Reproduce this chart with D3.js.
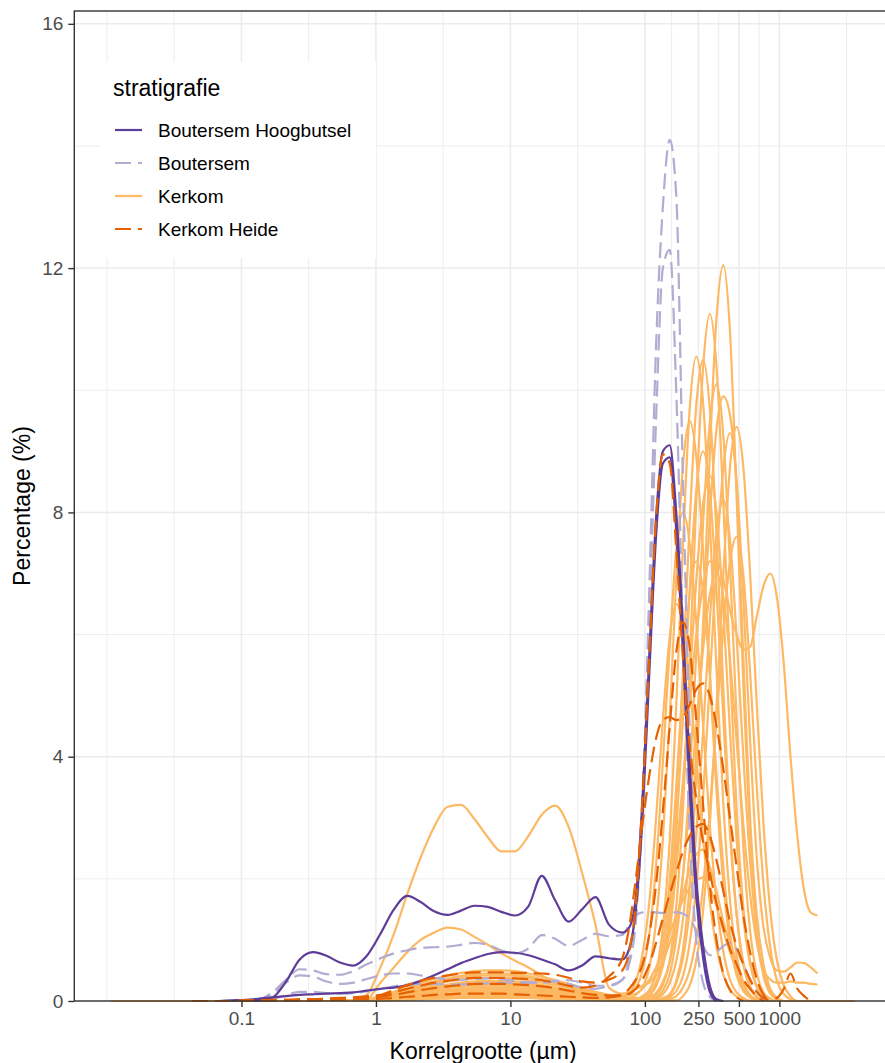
<!DOCTYPE html>
<html>
<head>
<meta charset="utf-8">
<title>Korrelgrootteverdeling</title>
<script src="https://cdnjs.cloudflare.com/ajax/libs/d3/7.8.5/d3.min.js"></script>
<style>
  body { margin: 0; background: #fff; }
  text { font-family: "Liberation Sans", Arial, sans-serif; }
</style>
</head>
<body>
<svg id="chart" width="885" height="1063"></svg>
<script>
// grain size classes (µm) of the laser diffraction grid
var sizes = [0.0108, 0.0136, 0.0171, 0.0215, 0.0271, 0.0341, 0.0429, 0.054, 0.068, 0.0856,
  0.108, 0.136, 0.171, 0.215, 0.271, 0.341, 0.429, 0.54, 0.68, 0.856,
  1.08, 1.36, 1.71, 2.15, 2.71, 3.41, 4.29, 5.4, 6.8, 8.56,
  10.8, 13.6, 17.1, 21.5, 27.1, 34.1, 42.9, 54, 68, 76.3,
  85.6, 96, 108, 121, 136, 153, 171, 192, 215, 241,
  271, 304, 341, 383, 429, 481, 540, 606, 680, 763,
  856, 960, 1080, 1210, 1360, 1530, 1710, 1920, 2420, 3050, 3640];

var xTicks = [0.1, 1, 10, 100, 250, 500, 1000];
var xTickLabels = ["0.1", "1", "10", "100", "250", "500", "1000"];
var xMinorBreaks = [0.01, 0.0316, 0.316, 3.16, 31.6, 158, 354, 707, 3162];
var yTicks = [0, 4, 8, 12, 16];
var yMinorBreaks = [2, 6, 10, 14];

var groups = ["Boutersem Hoogbutsel", "Boutersem", "Kerkom", "Kerkom Heide"];
var groupColors = ["#5e3c99", "#b2abd2", "#fdb863", "#e66101"];
var groupDash = [null, "16,7", null, "16,7"];

// each sample: index in sizes of its first value, then percentages
var hoogbutselSamples = [
  {from: 10, v: [0, 0.01, 0.06, 0.32, 0.68, 0.8, 0.74, 0.63, 0.58, 0.74,
    1.1, 1.5, 1.72, 1.62, 1.47, 1.41, 1.48, 1.56, 1.54, 1.46,
    1.4, 1.55, 2.05, 1.65, 1.3, 1.5, 1.7, 1.25, 1.12, 1.2,
    1.7, 3.3, 5.7, 7.9, 9.0, 9.1, 8.0, 6.1, 3.9, 2.0,
    0.9, 0.25, 0.03, 0]},
  {from: 8, v: [0, 0.01,
    0.02, 0.04, 0.06, 0.08, 0.1, 0.11, 0.12, 0.13, 0.14, 0.17,
    0.2, 0.22, 0.26, 0.33, 0.42, 0.52, 0.62, 0.7, 0.77, 0.8,
    0.79, 0.75, 0.68, 0.6, 0.5, 0.58, 0.73, 0.7, 0.68, 0.85,
    1.5, 3.0, 5.4, 7.6, 8.8, 8.9, 7.7, 5.7, 3.5, 1.7,
    0.7, 0.15, 0]}
];

var boutersemSamples = [
  {from: 9, v: [0,
    0.01, 0.03, 0.12, 0.3, 0.42, 0.4, 0.32, 0.28, 0.3, 0.36,
    0.42, 0.45, 0.45, 0.42, 0.38, 0.36, 0.35, 0.36, 0.37, 0.36,
    0.33, 0.3, 0.3, 0.32, 0.28, 0.22, 0.2, 0.25, 0.35, 0.6,
    1.3, 3.2, 6.8, 10.7, 13.0, 14.1, 13.2, 8.5, 4.5, 2.0,
    0.8, 0.2, 0]},
  {from: 10, v: [0, 0.01, 0.03, 0.1, 0.15, 0.15, 0.13, 0.12, 0.13, 0.16,
    0.2, 0.24, 0.27, 0.28, 0.28, 0.27, 0.27, 0.28, 0.29, 0.3,
    0.3, 0.3, 0.31, 0.33, 0.34, 0.3, 0.25, 0.25, 0.35, 0.7,
    1.6, 3.4, 6.2, 9.5, 12.0, 12.3, 10.0, 6.0, 2.8, 1.0,
    0.3, 0.07, 0]},
  {from: 9, v: [0,
    0.01, 0.03, 0.15, 0.35, 0.52, 0.5, 0.44, 0.43, 0.49, 0.6,
    0.7, 0.78, 0.83, 0.87, 0.88, 0.89, 0.92, 0.95, 0.92, 0.83,
    0.78, 0.86, 1.08, 1.02, 0.9, 1.0, 1.1, 1.06, 1.08, 1.25,
    1.4, 1.45, 1.46, 1.45, 1.44, 1.45, 1.45, 1.43, 1.35, 1.15,
    0.9, 0.75, 0.8, 0.9, 0.95, 0.85, 0.6, 0.35, 0.15, 0.04,
    0]}
];

var kerkomHeideSamples = [
  {from: 6, v: [0, 0, 0, 0,
    0.01, 0.01, 0.02, 0.02, 0.03, 0.03, 0.04, 0.05, 0.06, 0.08,
    0.1, 0.18, 0.26, 0.33, 0.38, 0.42, 0.45, 0.47, 0.47, 0.47,
    0.46, 0.46, 0.45, 0.43, 0.38, 0.32, 0.3, 0.35, 0.5, 0.8,
    1.6, 3.3, 5.7, 7.9, 8.95, 8.8, 7.4, 5.6, 4.2, 3.3,
    2.6, 2.1, 1.6, 1.2, 0.85, 0.6, 0.35, 0.2, 0.08, 0]},
  {from: 6, v: [0, 0, 0, 0,
    0.01, 0.01, 0.01, 0.02, 0.02, 0.03, 0.03, 0.04, 0.05, 0.06,
    0.08, 0.14, 0.2, 0.25, 0.3, 0.33, 0.36, 0.38, 0.38, 0.38,
    0.37, 0.36, 0.34, 0.3, 0.25, 0.22, 0.25, 0.4, 0.7, 1.2,
    2.0, 2.9, 3.7, 4.3, 4.6, 4.65, 4.6, 4.65, 4.85, 5.1,
    5.2, 5.0, 4.5, 3.8, 3.0, 2.2, 1.4, 0.8, 0.35, 0.1,
    0]},
  {from: 6, v: [0, 0, 0, 0,
    0, 0.01, 0.01, 0.01, 0.02, 0.02, 0.03, 0.03, 0.04, 0.05,
    0.07, 0.1, 0.14, 0.18, 0.21, 0.24, 0.26, 0.28, 0.28, 0.28,
    0.27, 0.26, 0.24, 0.21, 0.17, 0.13, 0.1, 0.09, 0.1, 0.12,
    0.2, 0.35, 0.6, 0.95, 1.35, 1.75, 2.1, 2.45, 2.7, 2.85,
    2.9, 2.7, 2.3, 1.8, 1.3, 0.9, 0.6, 0.35, 0.15, 0.05,
    0.02, 0.05, 0.2, 0.45, 0.2, 0.08, 0]},
  {from: 6, v: [0, 0, 0, 0,
    0, 0, 0.01, 0.01, 0.01, 0.01, 0.02, 0.02, 0.03, 0.03,
    0.04, 0.05, 0.07, 0.08, 0.1, 0.11, 0.12, 0.12, 0.12, 0.12,
    0.11, 0.1, 0.09, 0.08, 0.07, 0.06, 0.05, 0.06, 0.1, 0.2,
    0.35, 0.6, 1.1, 1.9, 3.1, 4.5, 5.7, 6.2, 5.8, 4.6,
    3.2, 1.9, 1.0, 0.45, 0.18, 0.06, 0]}
];

// Kerkom lines lie on 0 over the whole grid; a series whose last value is
// not 0 stops there (no measurement beyond)
var kerkomSamples = [
  {from: 18, v: [0, 0.1,
    0.55, 1.1, 1.75, 2.35, 2.85, 3.18, 3.21, 2.98, 2.68, 2.45,
    2.45, 2.7, 3.05, 3.2, 2.85, 2.1, 1.25, 0.22, 0.12, 0.15,
    0.2, 0.25, 0.3, 0.45, 0.65, 0.95, 1.3, 1.75, 2.15, 2.4,
    2.48, 2.2, 1.8, 1.3, 0.95, 0.65, 0.3, 0.1, 0]},
  {from: 18, v: [0, 0.03,
    0.3, 0.55, 0.8, 1.0, 1.12, 1.2, 1.17, 1.05, 0.92, 0.78,
    0.66, 0.55, 0.42, 0.3, 0.22, 0.14, 0.08, 0.06, 0.08, 0.1,
    0.12, 0.2, 0.35, 0.55, 0.8, 1.1, 1.4, 1.65, 1.85, 1.98,
    2.02, 1.85, 1.55, 1.15, 0.8, 0.5, 0.22, 0.08, 0]},
  {from: 19, v: [0,
    0.01, 0.02, 0.04, 0.05, 0.06, 0.07, 0.07, 0.08, 0.08, 0.08,
    0.08, 0.07, 0.06, 0.05, 0.04, 0.03, 0.02, 0.02, 0.01, 0.01,
    0.01, 0.01, 0.01, 0.02, 0.04, 0.11, 0.33, 0.84, 1.89, 3.69,
    6.19, 8.97, 11.19, 12.05, 10.97, 8.25, 5.15, 2.65, 1.13, 0.4,
    0.12, 0.03, 0]},
  {from: 18, v: [0.01, 0.03,
    0.07, 0.14, 0.2, 0.27, 0.32, 0.37, 0.41, 0.44, 0.45, 0.45,
    0.44, 0.41, 0.36, 0.31, 0.25, 0.19, 0.14, 0.09, 0.07, 0.05,
    0.05, 0.04, 0.04, 0.1, 0.26, 0.66, 1.54, 3.15, 5.5, 8.17,
    10.38, 11.25, 10.38, 8.17, 5.48, 3.13, 1.52, 0.63, 0.23, 0.07,
    0]},
  {from: 18, v: [0.01, 0.02,
    0.05, 0.09, 0.14, 0.18, 0.22, 0.25, 0.28, 0.29, 0.3, 0.3,
    0.29, 0.27, 0.24, 0.2, 0.17, 0.13, 0.09, 0.06, 0.05, 0.04,
    0.03, 0.07, 0.17, 0.47, 1.2, 2.63, 4.83, 7.46, 9.67, 10.55,
    9.8, 7.85, 5.42, 3.23, 1.66, 0.74, 0.28, 0.09, 0.03, 0]},
  {from: 18, v: [0, 0.01,
    0.03, 0.07, 0.1, 0.13, 0.16, 0.18, 0.2, 0.21, 0.22, 0.22,
    0.21, 0.2, 0.18, 0.15, 0.12, 0.09, 0.07, 0.04, 0.03, 0.03,
    0.02, 0.05, 0.1, 0.28, 0.74, 1.65, 3.21, 5.4, 7.81, 9.75,
    10.5, 9.69, 7.62, 5.11, 2.92, 1.42, 0.59, 0.21, 0.06, 0]},
  {from: 19, v: [0.01,
    0.02, 0.04, 0.05, 0.07, 0.09, 0.1, 0.11, 0.12, 0.12, 0.12,
    0.12, 0.11, 0.1, 0.08, 0.07, 0.05, 0.04, 0.02, 0.02, 0.01,
    0.01, 0.01, 0.02, 0.06, 0.17, 0.44, 1.02, 2.05, 3.64, 5.69,
    7.83, 9.47, 10.1, 9.26, 7.14, 4.63, 2.51, 1.15, 0.44, 0.14,
    0.04, 0]},
  {from: 20, v: [0.01, 0.02, 0.02, 0.03, 0.04, 0.04, 0.05, 0.05, 0.05, 0.05,
    0.05, 0.05, 0.04, 0.03, 0.03, 0.02, 0.02, 0.01, 0.01, 0.01,
    0.01, 0.01, 0.02, 0.04, 0.11, 0.29, 0.65, 1.34, 2.47, 4.07,
    6.01, 7.93, 9.37, 9.9, 9.6, 8.4, 5.6, 3.0, 1.4, 0.6,
    0.2, 0.05, 0]},
  {from: 18, v: [0.01, 0.02,
    0.06, 0.11, 0.17, 0.23, 0.27, 0.32, 0.35, 0.37, 0.38, 0.38,
    0.37, 0.34, 0.3, 0.26, 0.21, 0.16, 0.11, 0.08, 0.06, 0.05,
    0.1, 0.22, 0.55, 1.3, 2.64, 4.63, 6.9, 8.77, 9.5, 8.91,
    7.36, 5.35, 3.42, 1.93, 0.96, 0.42, 0.16, 0.06, 0]},
  {from: 18, v: [0, 0.01,
    0.03, 0.05, 0.08, 0.11, 0.13, 0.15, 0.17, 0.17, 0.18, 0.18,
    0.17, 0.16, 0.14, 0.12, 0.1, 0.08, 0.05, 0.04, 0.03, 0.02,
    0.02, 0.01, 0.01, 0.01, 0.02, 0.07, 0.16, 0.41, 0.94, 1.89,
    3.35, 5.24, 7.21, 8.72, 9.3, 8.53, 6.58, 4.26, 2.32, 1.2,
    0.7, 0.5, 0.48, 0.55, 0.63, 0.62, 0.55, 0.45]},
  {from: 18, v: [0.01, 0.02,
    0.04, 0.08, 0.12, 0.16, 0.19, 0.22, 0.25, 0.26, 0.27, 0.27,
    0.26, 0.24, 0.22, 0.18, 0.15, 0.11, 0.08, 0.05, 0.04, 0.03,
    0.03, 0.06, 0.1, 0.25, 0.57, 1.16, 2.14, 3.53, 5.22, 6.89,
    8.14, 8.6, 7.99, 6.4, 4.42, 2.63, 1.35, 0.6, 0.23, 0.08,
    0]},
  {from: 18, v: [0.01, 0.03,
    0.08, 0.15, 0.23, 0.3, 0.36, 0.42, 0.46, 0.49, 0.5, 0.5,
    0.49, 0.45, 0.4, 0.34, 0.28, 0.21, 0.15, 0.1, 0.08, 0.11,
    0.21, 0.49, 1.1, 2.22, 3.9, 5.81, 7.38, 8.0, 7.5, 6.2,
    4.5, 2.88, 1.62, 0.81, 0.35, 0.14, 0.05, 0]},
  {from: 19, v: [0.01,
    0.02, 0.03, 0.05, 0.06, 0.07, 0.08, 0.09, 0.1, 0.1, 0.1,
    0.1, 0.09, 0.08, 0.07, 0.06, 0.04, 0.03, 0.02, 0.02, 0.01,
    0.01, 0.01, 0.01, 0.01, 0.01, 0.04, 0.08, 0.22, 0.5, 1.03,
    1.89, 3.12, 4.61, 6.09, 7.19, 7.6, 6.97, 5.37, 3.48, 1.89,
    0.87, 0.33, 0.11, 0.03, 0]},
  {from: 19, v: [0.01,
    0.02, 0.05, 0.07, 0.09, 0.11, 0.12, 0.14, 0.15, 0.15, 0.15,
    0.15, 0.14, 0.12, 0.1, 0.08, 0.06, 0.05, 0.03, 0.02, 0.02,
    0.02, 0.02, 0.07, 0.13, 0.31, 0.64, 1.2, 2.07, 3.21, 4.51,
    5.76, 6.66, 7.0, 6.62, 5.61, 4.25, 2.88, 1.74, 0.95, 0.5,
    0.35, 0.3, 0.3, 0.32, 0.3, 0.3, 0.28, 0.27]},
  {from: 18, v: [0.01, 0.02,
    0.05, 0.1, 0.15, 0.2, 0.24, 0.27, 0.3, 0.32, 0.33, 0.33,
    0.32, 0.3, 0.26, 0.22, 0.18, 0.14, 0.1, 0.07, 0.08, 0.13,
    0.32, 0.77, 1.63, 2.98, 4.6, 5.96, 6.5, 6.15, 5.21, 3.95,
    2.67, 1.62, 0.88, 0.43, 0.19, 0.07, 0.03, 0]},
  {from: 19, v: [0.01,
    0.02, 0.03, 0.05, 0.06, 0.07, 0.08, 0.09, 0.1, 0.1, 0.1,
    0.1, 0.09, 0.08, 0.07, 0.06, 0.04, 0.03, 0.02, 0.02, 0.01,
    0.01, 0.02, 0.11, 0.3, 0.7, 1.4, 2.4, 3.6, 4.9, 6.0,
    6.8, 7.2, 7.2, 6.9, 6.4, 6.0, 5.75, 5.8, 6.3, 6.8,
    7.0, 6.6, 5.5, 4.0, 2.7, 1.8, 1.45, 1.4]},
  {from: 19, v: [0.01,
    0.03, 0.06, 0.09, 0.12, 0.14, 0.17, 0.18, 0.19, 0.2, 0.2,
    0.19, 0.18, 0.16, 0.14, 0.11, 0.08, 0.06, 0.04, 0.03, 0.02,
    0.02, 0.02, 0.1, 0.24, 0.63, 1.41, 2.75, 4.63, 6.7, 8.36,
    9.0, 8.36, 6.7, 4.63, 2.75, 1.41, 0.63, 0.24, 0.08, 0]},
  {from: 18, v: [0.01, 0.02,
    0.04, 0.08, 0.11, 0.15, 0.18, 0.21, 0.23, 0.24, 0.25, 0.25,
    0.24, 0.23, 0.2, 0.17, 0.14, 0.11, 0.08, 0.05, 0.04, 0.03,
    0.03, 0.02, 0.02, 0.02, 0.05, 0.1, 0.29, 0.7, 1.48, 2.74,
    4.42, 6.23, 7.66, 8.2, 7.57, 5.95, 3.99, 2.28, 1.11, 0.46,
    0.16, 0.05, 0]},
  {from: 18, v: [0.01, 0.03,
    0.06, 0.13, 0.19, 0.25, 0.3, 0.35, 0.39, 0.41, 0.42, 0.42,
    0.41, 0.38, 0.34, 0.29, 0.23, 0.18, 0.13, 0.08, 0.06, 0.05,
    0.04, 0.08, 0.18, 0.43, 0.97, 2.0, 3.51, 5.23, 6.65, 7.2,
    6.69, 5.36, 3.7, 2.2, 1.13, 0.5, 0.19, 0.06, 0]},
  {from: 20, v: [0.01, 0.01, 0.02, 0.03, 0.04, 0.05, 0.05, 0.06, 0.06, 0.06,
    0.06, 0.05, 0.05, 0.04, 0.03, 0.03, 0.02, 0.01, 0.01, 0.01,
    0.01, 0.01, 0.01, 0.01, 0.01, 0.01, 0.01, 0.08, 0.25, 0.66,
    1.48, 2.88, 4.83, 6.99, 8.73, 9.4, 8.73, 6.99, 4.83, 2.88,
    1.48, 0.66, 0.25, 0.08, 0]}
];

var panel = {left: 74.3, top: 11, right: 892, bottom: 1001};

// log x scale, expanded 5% on both sides of the measured range (like ggplot)
var logExtent = d3.extent(sizes).map(Math.log10);
var pad = (logExtent[1] - logExtent[0]) * 0.05;
var x = d3.scaleLog()
  .domain([Math.pow(10, logExtent[0] - pad), Math.pow(10, logExtent[1] + pad)])
  .range([panel.left, panel.right]);
var y = d3.scaleLinear().domain([0, 16.21]).range([panel.bottom, panel.top]);

var svg = d3.select("#chart");
svg.append("rect").attr("width", 885).attr("height", 1063).attr("fill", "#fff");

var grid = svg.append("g").attr("stroke", "#ebebeb").attr("fill", "none");
grid.selectAll("line.ymin").data(yMinorBreaks).join("line").attr("class", "ymin")
  .attr("x1", panel.left).attr("x2", panel.right)
  .attr("y1", function(d) { return y(d); }).attr("y2", function(d) { return y(d); })
  .attr("stroke-width", 0.9);
grid.selectAll("line.xmin").data(xMinorBreaks).join("line").attr("class", "xmin")
  .attr("y1", panel.top).attr("y2", panel.bottom)
  .attr("x1", function(d) { return x(d); }).attr("x2", function(d) { return x(d); })
  .attr("stroke-width", 0.9);
grid.selectAll("line.ymaj").data(yTicks).join("line").attr("class", "ymaj")
  .attr("x1", panel.left).attr("x2", panel.right)
  .attr("y1", function(d) { return y(d); }).attr("y2", function(d) { return y(d); })
  .attr("stroke-width", 1.5);
grid.selectAll("line.xmaj").data(xTicks).join("line").attr("class", "xmaj")
  .attr("y1", panel.top).attr("y2", panel.bottom)
  .attr("x1", function(d) { return x(d); }).attr("x2", function(d) { return x(d); })
  .attr("stroke-width", 1.5);

function toPoints(sample, padded) {
  var pts = [];
  if (padded) {
    for (var i = 0; i < sample.from; i++) pts.push([sizes[i], 0]);
  }
  sample.v.forEach(function(val, j) { pts.push([sizes[sample.from + j], val]); });
  var last = sample.v[sample.v.length - 1];
  if (padded && last === 0) {
    for (var k = sample.from + sample.v.length; k < sizes.length; k++) pts.push([sizes[k], 0]);
  }
  return pts;
}

var line = d3.line()
  .x(function(d) { return x(d[0]); })
  .y(function(d) { return y(d[1]); })
  .curve(d3.curveMonotoneX);

// draw order: Kerkom, Boutersem, Boutersem Hoogbutsel, Kerkom Heide
var layers = [
  {g: 2, samples: kerkomSamples, padded: true},
  {g: 1, samples: boutersemSamples, padded: false},
  {g: 0, samples: hoogbutselSamples, padded: false},
  {g: 3, samples: kerkomHeideSamples, padded: false}
];

var lines = svg.append("g").attr("fill", "none");
layers.forEach(function(layer) {
  lines.append("g")
    .selectAll("path")
    .data(layer.samples)
    .join("path")
    .attr("d", function(s) { return line(toPoints(s, layer.padded)); })
    .attr("stroke", groupColors[layer.g])
    .attr("stroke-width", 2.2)
    .attr("stroke-linejoin", "round")
    .attr("stroke-dasharray", groupDash[layer.g]);
});

// legend
var legend = svg.append("g");
legend.append("rect").attr("x", 100).attr("y", 62).attr("width", 276).attr("height", 196)
  .attr("fill", "#fff");
legend.append("text").attr("x", 113).attr("y", 96).attr("font-size", 23)
  .attr("fill", "#000").text("stratigrafie");
var items = legend.selectAll("g.item").data(groups).join("g").attr("class", "item")
  .attr("transform", function(d, i) { return "translate(0," + (130 + 33 * i) + ")"; });
items.append("line").attr("x1", 115).attr("x2", 142)
  .attr("stroke", function(d, i) { return groupColors[i]; })
  .attr("stroke-width", 2.2)
  .attr("stroke-dasharray", function(d, i) { return groupDash[i]; });
items.append("text").attr("x", 158).attr("y", 7).attr("font-size", 19)
  .attr("fill", "#000").text(function(d) { return d; });

// panel border
svg.append("rect").attr("x", panel.left).attr("y", panel.top)
  .attr("width", panel.right - panel.left).attr("height", panel.bottom - panel.top)
  .attr("fill", "none").attr("stroke", "#333").attr("stroke-width", 1.4);

// axes
var xAxis = d3.axisBottom(x).tickValues(xTicks)
  .tickFormat(function(d, i) { return xTickLabels[i]; })
  .tickSize(6).tickPadding(5);
var yAxis = d3.axisLeft(y).tickValues(yTicks).tickSize(6).tickPadding(5);

var gx = svg.append("g").attr("transform", "translate(0," + panel.bottom + ")").call(xAxis);
var gy = svg.append("g").attr("transform", "translate(" + panel.left + ",0)").call(yAxis);
[gx, gy].forEach(function(g) {
  g.select(".domain").remove();
  g.selectAll(".tick line").attr("stroke", "#333").attr("stroke-width", 1.4);
  g.selectAll(".tick text").attr("fill", "#4d4d4d").attr("font-size", 19)
    .attr("font-family", "Liberation Sans, Arial, sans-serif");
});

svg.append("text").attr("x", (panel.left + panel.right) / 2).attr("y", 1059)
  .attr("text-anchor", "middle").attr("font-size", 23).attr("fill", "#000")
  .text("Korrelgrootte (µm)");
svg.append("text").attr("transform", "translate(30," + ((panel.top + panel.bottom) / 2) + ") rotate(-90)")
  .attr("text-anchor", "middle").attr("font-size", 23).attr("fill", "#000")
  .text("Percentage (%)");
</script>
</body>
</html>
